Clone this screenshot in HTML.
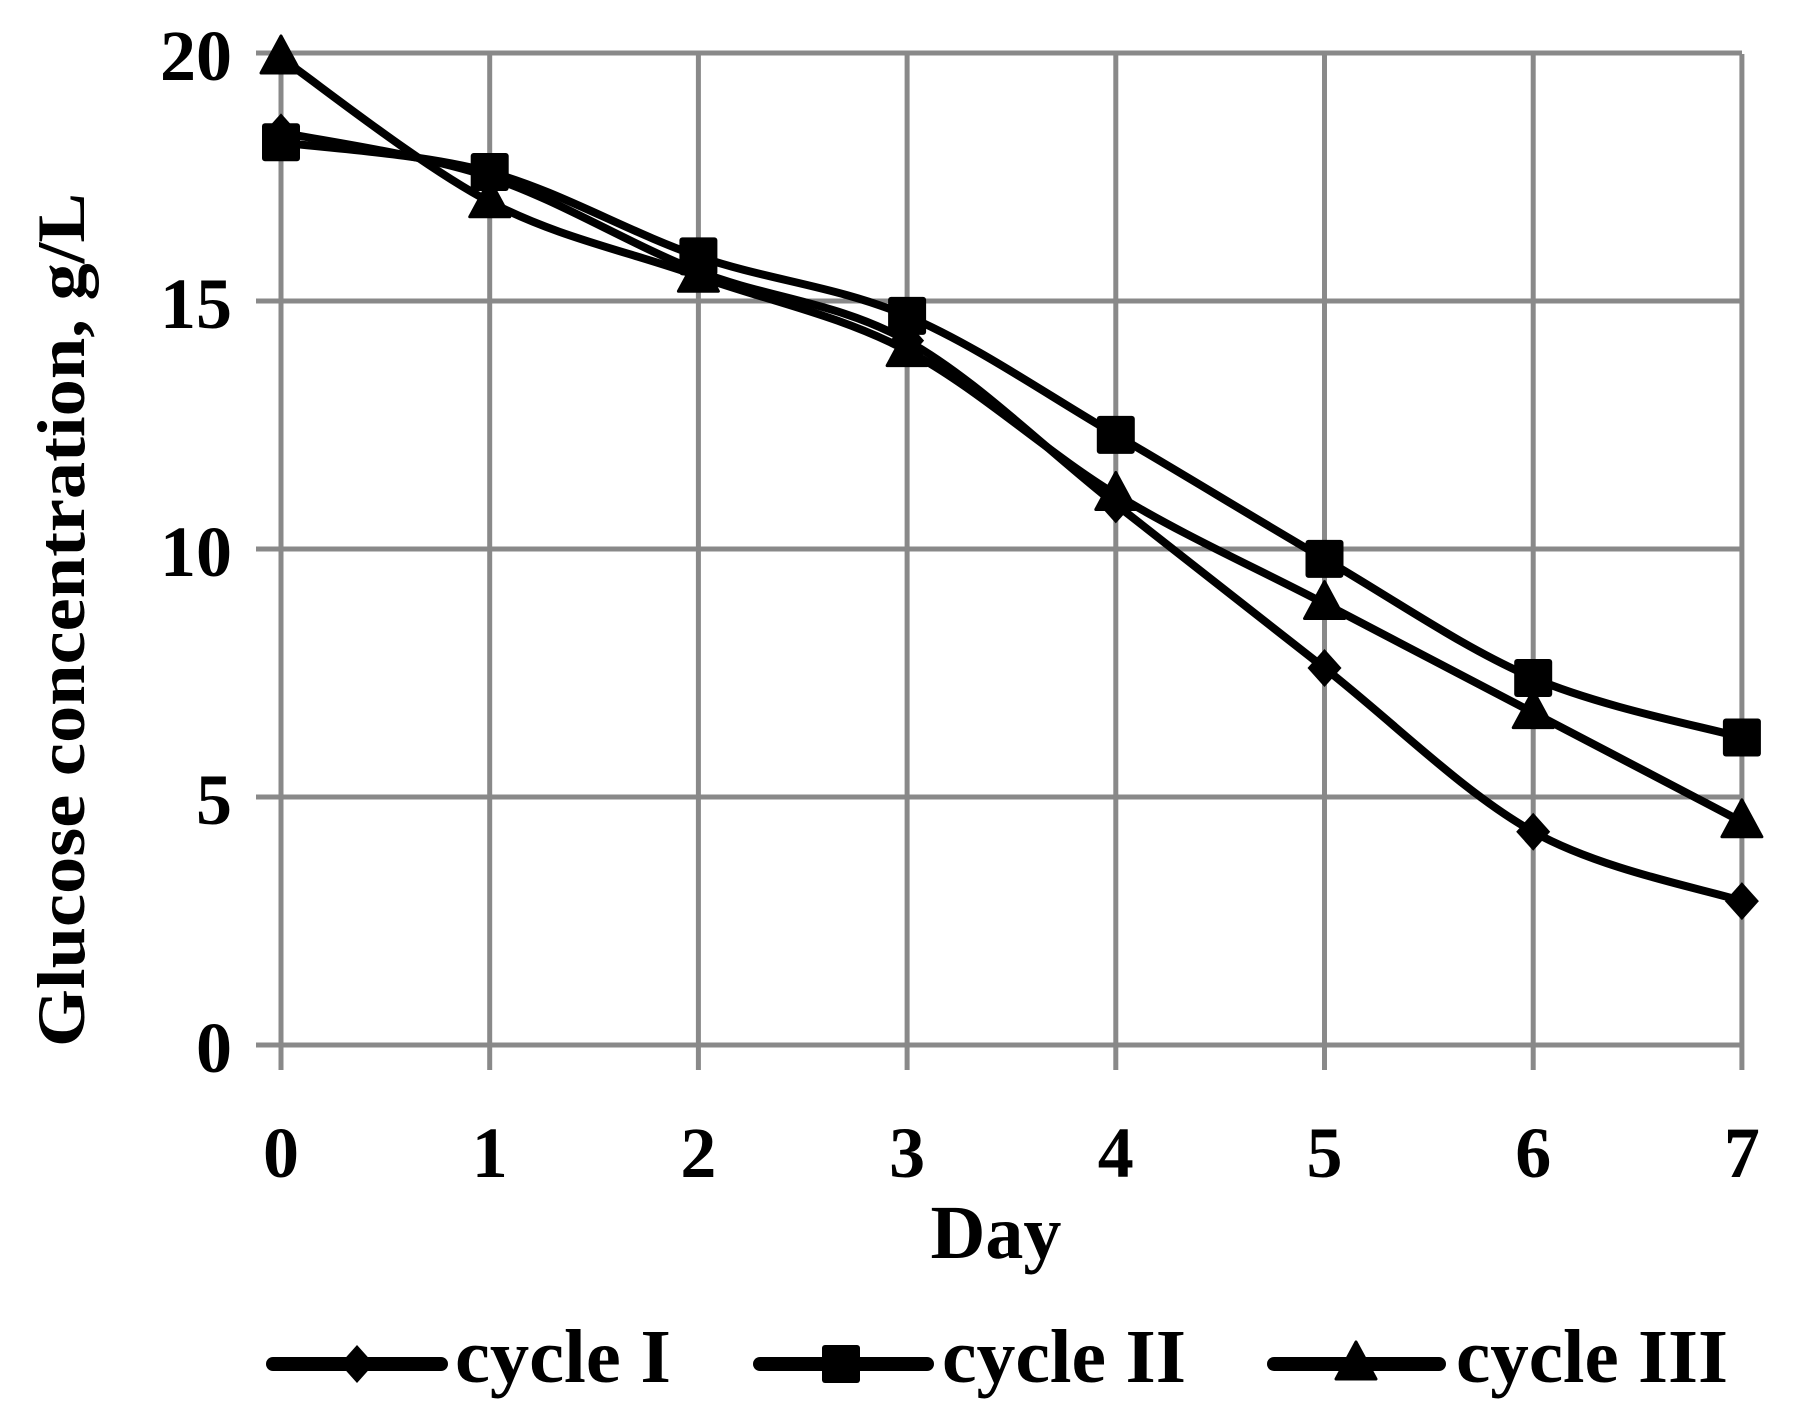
<!DOCTYPE html>
<html><head><meta charset="utf-8"><style>
html,body{margin:0;padding:0;background:#fff;}
svg{display:block;}
text{font-family:"Liberation Serif",serif;font-weight:bold;fill:#000;}
</style></head><body>
<svg id="s" width="1804" height="1424" viewBox="0 0 1804 1424" xmlns="http://www.w3.org/2000/svg">
<g id="grid" stroke="#898989" stroke-width="5" fill="none"></g>
<g id="series"></g>
<g font-size="72" text-anchor="end">
<text x="232" y="80">20</text>
<text x="232" y="328">15</text>
<text x="232" y="576">10</text>
<text x="232" y="824">5</text>
<text x="232" y="1072">0</text>
</g>
<g id="xl" font-size="72" text-anchor="middle"></g>
<text x="996" y="1258" font-size="76" text-anchor="middle">Day</text>
<text transform="translate(84,620) rotate(-90)" font-size="68" text-anchor="middle" textLength="854" lengthAdjust="spacingAndGlyphs">Glucose concentration, g/L</text>
<g font-size="76">
<text x="455" y="1382" textLength="216" lengthAdjust="spacingAndGlyphs">cycle I</text>
<text x="942" y="1382" textLength="244" lengthAdjust="spacingAndGlyphs">cycle II</text>
<text x="1456" y="1382" textLength="272" lengthAdjust="spacingAndGlyphs">cycle III</text>
</g>
<g id="leg"></g>
</svg>
<script>
var NS="http://www.w3.org/2000/svg";
function el(p,t,a){var e=document.createElementNS(NS,t);for(var k in a)e.setAttribute(k,a[k]);p.appendChild(e);return e;}
var x0=281,dx=208.7,y0=1045,dy=248/5;
function X(d){return x0+d*dx;} function Y(v){return y0-v*dy;}
var g=document.getElementById('grid');
for(var i=0;i<=4;i++){el(g,'line',{x1:256,x2:1742,y1:Y(i*5),y2:Y(i*5)});}
for(var d=0;d<=7;d++){el(g,'line',{x1:X(d),x2:X(d),y1:54,y2:1070});
 var t=el(document.getElementById('xl'),'text',{x:X(d),y:1177});t.textContent=d;}
var data=[
 {v:[18.4,17.5,15.6,14.2,10.9,7.6,4.3,2.9],m:'d'},
 {v:[18.2,17.6,15.9,14.7,12.3,9.8,7.4,6.2],m:'s'},
 {v:[19.9,17.0,15.5,14.0,11.1,8.9,6.7,4.5],m:'t'}];
var sg=document.getElementById('series');
function marker(p,m,x,y,s){
 s=s||1;
 if(m=='d'){el(p,'polygon',{points:[x,y-19*s,x+17*s,y,x,y+19*s,x-17*s,y].join(' '),fill:'#000'});}
 else if(m=='s'){el(p,'rect',{x:x-19*s,y:y-19*s,width:38*s,height:38*s,rx:3,fill:'#000'});}
 else {el(p,'polygon',{points:[x,y-22*s,x+20*s,y+15*s,x-20*s,y+15*s].join(' '),fill:'#000',stroke:'#000','stroke-width':3,'stroke-linejoin':'round'});}
}
data.forEach(function(s){
 var P=s.v.map(function(v,i){return [X(i),Y(v)];});
 var d='M'+P[0][0]+','+P[0][1];
 for(var i=0;i<P.length-1;i++){
  var p0=P[Math.max(0,i-1)],p1=P[i],p2=P[i+1],p3=P[Math.min(P.length-1,i+2)];
  var k=1/6;
  d+=' C'+(p1[0]+(p2[0]-p0[0])*k)+','+(p1[1]+(p2[1]-p0[1])*k)+' '+(p2[0]-(p3[0]-p1[0])*k)+','+(p2[1]-(p3[1]-p1[1])*k)+' '+p2[0]+','+p2[1];
 }
 el(sg,'path',{d:d,fill:'none',stroke:'#000','stroke-width':8,'stroke-linejoin':'round'});
});
data.forEach(function(s){s.v.forEach(function(v,i){marker(sg,s.m,X(i),Y(v));});});
var lg=document.getElementById('leg');
[[273,441,357,'d'],[760,927,841,'s'],[1274,1439,1356,'t']].forEach(function(a){
 el(lg,'line',{x1:a[0],x2:a[1],y1:1364,y2:1364,stroke:'#000','stroke-width':14,'stroke-linecap':'round'});
 marker(lg,a[3],a[2],1364,1);
});
</script>
</body></html>
